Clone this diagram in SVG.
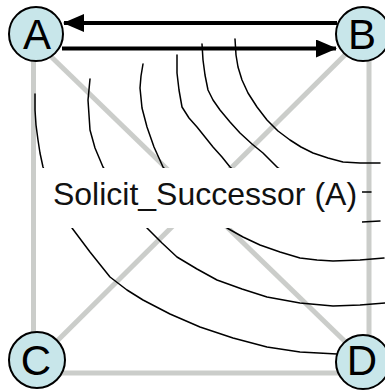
<svg xmlns="http://www.w3.org/2000/svg" width="385" height="390" viewBox="0 0 385 390">
<style>
.edge{stroke:#cbcdca;stroke-width:5;fill:none}
.wave{stroke:#000;stroke-width:1.5;fill:none;stroke-linejoin:round;stroke-linecap:round}
.arrow{stroke:#000;stroke-width:4;fill:none}
.node circle{fill:#c8e6ea;stroke:#000;stroke-width:2}
.node text{font-family:"Liberation Sans",Arial,sans-serif;font-size:42px;fill:#000;text-anchor:middle}
.label{font-family:"Liberation Sans",Arial,sans-serif;font-size:32px;fill:#111;text-anchor:middle}
</style>
<defs>
<marker id="ah" markerWidth="21" markerHeight="18" refX="20" refY="9" orient="auto" markerUnits="userSpaceOnUse">
<path d="M0,0 L21,9 L0,18 Z" fill="#000"/>
</marker>
</defs>
<g id="connectors">
<line class="edge" x1="33.5" y1="34" x2="33.5" y2="360"/>
<line class="edge" x1="369" y1="34" x2="369" y2="362"/>
<line class="edge" x1="37" y1="373" x2="363" y2="373"/>
<line class="edge" x1="36" y1="42" x2="360" y2="356"/>
<line class="edge" x1="360" y1="40" x2="40" y2="358"/>
<line class="arrow" x1="337" y1="23" x2="64" y2="23" marker-end="url(#ah)"/>
<line class="arrow" x1="62" y1="48.5" x2="336" y2="48.5" marker-end="url(#ah)"/>
</g>
<g id="waves">
<path class="wave" d="M235,39 L236,55 L238,67 L242,80 L248,93 L257,107 L267,120 L278,131 L290,140 L301,147 L313,153 L328,158 L343,162 L360,163 L380,163"/>
<path class="wave" d="M202,44 L203,60 L205,75 L208,90 L213,100 L220,110 L230,122 L240,133 L252,144 L263,153 L278,168 L300,180 L330,189 L362,192 L371,192"/>
<path class="wave" d="M177,55 L177,73 L179,90 L182,107 L189,118 L197,127 L205,137 L213,147 L222,157 L230,167 L260,190 L300,210 L340,220 L362,222 L380,221"/>
<path class="wave" d="M143,64 L141,76 L140,88 L142,108 L147,127 L154,147 L163,167 L195,200 L227,228 L243,237 L260,245 L280,252 L300,258 L317,260 L333,261 L360,260 L384,258"/>
<path class="wave" d="M90,79 L88,100 L89,115 L90,130 L95,148 L103,167 L125,198 L147,228 L162,243 L177,257 L197,269 L217,280 L242,289 L267,297 L300,303 L333,306 L360,305 L385,303"/>
<path class="wave" d="M35,94 L35,110 L36,125 L38,140 L40,153 L43,167 L57,198 L72,228 L90,252 L110,277 L127,290 L143,300 L170,314 L200,327 L233,338 L267,347 L300,352 L337,354"/>
</g>
<g id="label">
<rect x="37" y="168" width="325" height="60" fill="#fff"/>
<text class="label" x="205" y="205">Solicit_Successor (A)</text>
</g>
<g id="node-A" class="node"><circle cx="36" cy="34" r="27"/><text x="37" y="49">A</text></g>
<g id="node-B" class="node"><circle cx="363" cy="34" r="27"/><text x="362" y="49">B</text></g>
<g id="node-C" class="node"><circle cx="37" cy="360" r="28"/><text x="36" y="375">C</text></g>
<g id="node-D" class="node"><circle cx="363" cy="362" r="27"/><text x="362" y="375">D</text></g>
</svg>
